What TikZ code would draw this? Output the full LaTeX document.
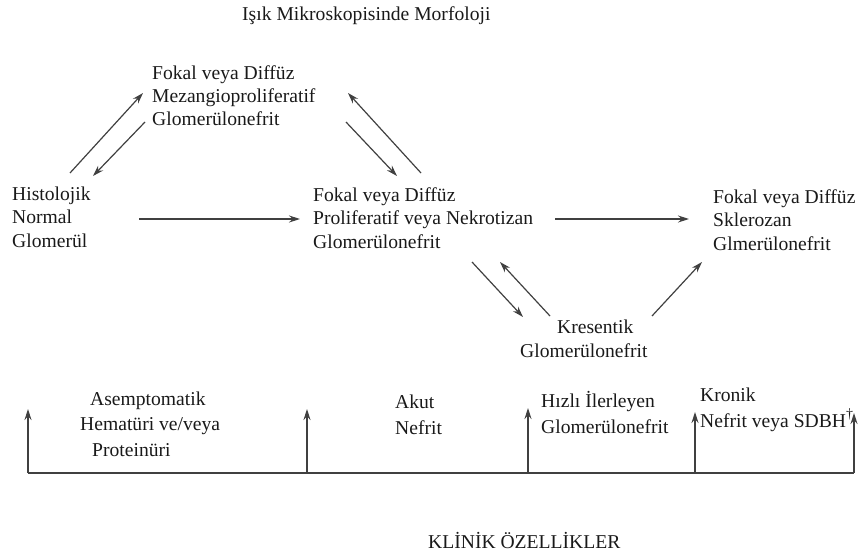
\documentclass[tikz,border=0pt]{standalone}
\usepackage{fontspec}
\setmainfont{Liberation Serif}
\usetikzlibrary{arrows.meta}
\tikzset{
  txt/.style={inner sep=0pt, anchor=base west, align=left, text=black!90,
    font=\fontsize{19.6}{23.5}\selectfont},
  txtb/.style={txt, font=\fontsize{19.6}{25.5}\selectfont},
  arr/.style={draw=black!75, line width=1.2pt,
    -{Stealth[length=11pt,width=7pt]}},
  axis/.style={draw=black!75, line width=1.2pt}
}
\begin{document}
\begin{tikzpicture}[x=1pt,y=-1pt]
\useasboundingbox (0,0) rectangle (859,559);
% titles
\node[txt] (title) at (242,21) {Işık Mikroskopisinde Morfoloji};
\node[txt] (clin) at (428,548) {KLİNİK ÖZELLİKLER};
% morphology nodes (anchor = baseline of the last line)
\node[txt] (top) at (152,126) {Fokal veya Diffüz\\Mezangioproliferatif\\Glomerülonefrit};
\node[txt] (hist) at (12,247) {Histolojik\\Normal\\Glomerül};
\node[txt] (mid) at (313,248) {Fokal veya Diffüz\\Proliferatif veya Nekrotizan\\Glomerülonefrit};
\node[txt] (right) at (713,250) {Fokal veya Diffüz\\Sklerozan\\Glmerülonefrit};
\node[txt] (kres) at (520,357) {\hspace*{37pt}Kresentik\\Glomerülonefrit};
% arrow end points
\coordinate (h1) at (70,173);   \coordinate (t1) at (143,93);
\coordinate (t2) at (145,122);  \coordinate (h2) at (93,176);
\coordinate (t3) at (346,122);  \coordinate (m3) at (397,176);
\coordinate (m4) at (421,173);  \coordinate (t4) at (348,93);
\coordinate (h5) at (139,219);  \coordinate (m5) at (300,219);
\coordinate (m6) at (555,219);  \coordinate (r6) at (689,219);
\coordinate (m7) at (472,262);  \coordinate (k7) at (523,317);
\coordinate (k8) at (550,316);  \coordinate (m8) at (500,262);
\coordinate (k9) at (652,316);  \coordinate (r9) at (702,262);
\draw[arr] (h1) -- (t1);
\draw[arr] (t2) -- (h2);
\draw[arr] (t3) -- (m3);
\draw[arr] (m4) -- (t4);
\draw[arr] (h5) -- (m5);
\draw[arr] (m6) -- (r6);
\draw[arr] (m7) -- (k7);
\draw[arr] (k8) -- (m8);
\draw[arr] (k9) -- (r9);
% clinical features
\node[txtb] (asym) at (80,456) {\hspace*{10pt}Asemptomatik\\Hematüri ve/veya\\\hspace*{12pt}Proteinüri};
\node[txtb] (akut) at (395,434) {Akut\\Nefrit};
\node[txtb] (rpgn) at (541,433) {Hızlı İlerleyen\\Glomerülonefrit};
\node[txtb] (kron) at (700,427) {Kronik\\Nefrit veya SDBH\raisebox{9pt}{\fontsize{14}{14}\selectfont †}};
\coordinate (b0) at (28,473);  \coordinate (b5) at (854,473);
\coordinate (b1) at (307,473); \coordinate (b2) at (528,473);
\coordinate (b3) at (695,473);
\coordinate (u0) at (28,409);  \coordinate (u1) at (307,409);
\coordinate (u2) at (528,408); \coordinate (u3) at (695,412);
\coordinate (u5) at (854,413);
\draw[axis] (b0) -- (b5);
\draw[arr] (b0) -- (u0);
\draw[arr] (b1) -- (u1);
\draw[arr] (b2) -- (u2);
\draw[arr] (b3) -- (u3);
\draw[arr] (b5) -- (u5);
\end{tikzpicture}
\end{document}
